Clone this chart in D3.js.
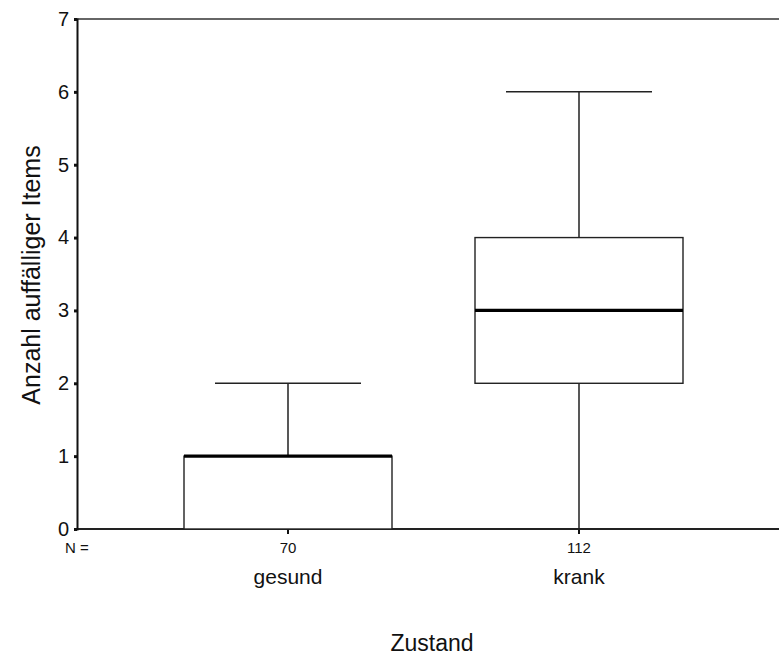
<!DOCTYPE html>
<html>
<head>
<meta charset="utf-8">
<script src="https://cdn.jsdelivr.net/npm/d3@7"></script>
<style>
  body { margin: 0; background: #fff; }
  svg { display: block; font-family: "Liberation Sans", Arial, sans-serif; }
</style>
</head>
<body>
<div id="chart"></div>
<script>
// data
const categories = ["gesund", "krank"];
const counts = [70, 112];
const whiskerLow = [0, 0];
const q1 = [0, 2];
const median = [1, 3];
const q3 = [1, 4];
const whiskerHigh = [2, 6];
const yTicks = [0, 1, 2, 3, 4, 5, 6, 7];

const width = 779, height = 656;
const plotLeft = 77, plotTop = 19, plotBottom = 529, plotRight = 800;

const svg = d3.select("#chart").append("svg")
    .attr("width", width)
    .attr("height", height);

const y = d3.scaleLinear().domain([0, 7]).range([plotBottom, plotTop]);
const x = d3.scalePoint().domain(categories).range([288, 579]);

const boxW = 208, capW = 146;

const rows = categories.map((c, i) => ({
    cat: c, n: counts[i], lo: whiskerLow[i], q1: q1[i], med: median[i], q3: q3[i], hi: whiskerHigh[i]
}));

// frame (right edge lies outside the window)
svg.append("line").attr("x1", plotLeft).attr("x2", plotRight).attr("y1", plotTop).attr("y2", plotTop)
    .attr("stroke", "#333").attr("stroke-width", 1.6);
svg.append("line").attr("x1", plotLeft).attr("x2", plotRight).attr("y1", plotBottom).attr("y2", plotBottom)
    .attr("stroke", "#222").attr("stroke-width", 2);

// y axis
const yAxis = svg.append("g")
    .attr("transform", `translate(${plotLeft},0)`)
    .call(d3.axisLeft(y).tickValues(yTicks).tickFormat(d3.format("d")).tickSize(3).tickPadding(5));
yAxis.select(".domain").attr("stroke", "#111").attr("stroke-width", 2);
yAxis.selectAll(".tick line").attr("stroke", "#111").attr("stroke-width", 3);
yAxis.selectAll(".tick text")
    .attr("font-size", 20).attr("fill", "#111")
    .attr("font-family", "Liberation Sans, Arial, sans-serif");

// x ticks (small marks below the axis)
svg.selectAll("line.xtick").data(rows).join("line")
    .attr("class", "xtick")
    .attr("x1", d => x(d.cat)).attr("x2", d => x(d.cat))
    .attr("y1", plotBottom).attr("y2", plotBottom + 5)
    .attr("stroke", "#111").attr("stroke-width", 2);

const g = svg.selectAll("g.box").data(rows).join("g").attr("class", "box");

// whiskers
g.append("line")
    .attr("x1", d => x(d.cat)).attr("x2", d => x(d.cat))
    .attr("y1", d => y(d.q3)).attr("y2", d => y(d.hi))
    .attr("stroke", "#111").attr("stroke-width", 1.4);
g.append("line")
    .attr("x1", d => x(d.cat)).attr("x2", d => x(d.cat))
    .attr("y1", d => y(d.q1)).attr("y2", d => y(d.lo))
    .attr("stroke", "#111").attr("stroke-width", 1.4);
g.append("line")
    .attr("x1", d => x(d.cat) - capW / 2).attr("x2", d => x(d.cat) + capW / 2)
    .attr("y1", d => y(d.hi)).attr("y2", d => y(d.hi))
    .attr("stroke", "#222").attr("stroke-width", 1.5);
g.filter(d => d.lo < d.q1).append("line")
    .attr("x1", d => x(d.cat) - capW / 2).attr("x2", d => x(d.cat) + capW / 2)
    .attr("y1", d => y(d.lo)).attr("y2", d => y(d.lo))
    .attr("stroke", "#222").attr("stroke-width", 1.5);

// boxes
g.append("rect")
    .attr("x", d => x(d.cat) - boxW / 2)
    .attr("y", d => y(d.q3))
    .attr("width", boxW)
    .attr("height", d => y(d.q1) - y(d.q3))
    .attr("fill", "#fff").attr("stroke", "#222").attr("stroke-width", 1.4);

// median
g.append("line")
    .attr("x1", d => x(d.cat) - boxW / 2).attr("x2", d => x(d.cat) + boxW / 2)
    .attr("y1", d => y(d.med)).attr("y2", d => y(d.med))
    .attr("stroke", "#000").attr("stroke-width", 3.2);

// N labels
svg.append("text").attr("x", 65).attr("y", 553)
    .attr("font-size", 15).attr("fill", "#111").text("N =");
svg.selectAll("text.n").data(rows).join("text")
    .attr("class", "n")
    .attr("x", d => x(d.cat)).attr("y", 553)
    .attr("text-anchor", "middle").attr("font-size", 15).attr("fill", "#111")
    .text(d => d.n);

// category labels
svg.selectAll("text.cat").data(rows).join("text")
    .attr("class", "cat")
    .attr("x", d => x(d.cat)).attr("y", 584)
    .attr("text-anchor", "middle").attr("font-size", 21).attr("fill", "#111")
    .text(d => d.cat);

// axis titles
svg.append("text")
    .attr("x", 432).attr("y", 651)
    .attr("text-anchor", "middle").attr("font-size", 23).attr("fill", "#111")
    .text("Zustand");

svg.append("text")
    .attr("transform", "translate(40,275) rotate(-90)")
    .attr("text-anchor", "middle").attr("font-size", 25).attr("fill", "#111")
    .text("Anzahl auffälliger Items");
</script>
</body>
</html>
